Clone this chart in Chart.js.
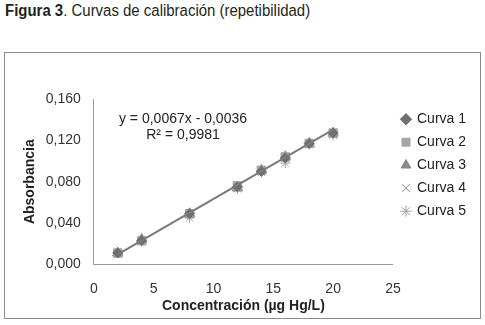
<!DOCTYPE html>
<html>
<head>
<meta charset="utf-8">
<script src="https://cdn.jsdelivr.net/npm/chart.js@4"></script>
<style>
  body { margin: 0; background: #fff; width: 485px; height: 325px; position: relative; overflow: hidden; }
  #fig { position: absolute; left: 5px; top: 2px; font-family: "Liberation Sans Narrow", "Arial Narrow", "Liberation Sans", sans-serif; font-size: 16px; color: #231f20; white-space: nowrap; transform: scaleX(0.935); transform-origin: left top; }
  #fig b { font-weight: bold; }
  #box { position: absolute; left: 4px; top: 52px; width: 475px; height: 265px; border: 1px solid #8c8c8c; }
</style>
</head>
<body>
<div id="fig"><b>Figura 3</b>. Curvas de calibración (repetibilidad)</div>
<div id="box"><canvas id="calChart" width="475" height="265"></canvas></div>
<script>
// concentraciones (µg Hg/L)
const conc = [2, 4, 8, 12, 14, 16, 18, 20];

// absorbancias
const curva1 = [0.011, 0.023, 0.049, 0.075, 0.090, 0.103, 0.117, 0.127];
const curva2 = [0.011, 0.023, 0.049, 0.076, 0.091, 0.104, 0.117, 0.127];
const curva3 = [0.011, 0.024, 0.049, 0.074, 0.091, 0.104, 0.117, 0.127];
const curva4 = [0.010, 0.022, 0.048, 0.074, 0.090, 0.103, 0.116, 0.126];
const curva5 = [0.011, 0.022, 0.045, 0.073, 0.089, 0.098, 0.116, 0.125];

// línea de tendencia y = 0,0067x - 0,0036
const trendX = [2, 20];
const trendY = [0.0098, 0.1304];

const yTicks = [0, 0.04, 0.08, 0.12, 0.16];

const FONT = "'Liberation Sans', Arial, sans-serif";

const toXY = vals => conc.map((x, i) => ({ x: x, y: vals[i] }));

const series = [
  { label: "Curva 1", data: curva1, style: "rectRot", color: "#6f6f6f", r: 5 },
  { label: "Curva 2", data: curva2, style: "rect", color: "#a5a5a5", r: 6 },
  { label: "Curva 3", data: curva3, style: "triangle", color: "#888888", r: 6 },
  { label: "Curva 4", data: curva4, style: "crossRot", color: "#8a8a8a", r: 5 },
  { label: "Curva 5", data: curva5, style: "star", color: "#a0a0a0", r: 5 }
];

const datasets = series.map(s => ({
  label: s.label,
  data: toXY(s.data),
  pointStyle: s.style,
  pointRadius: s.r,
  pointBackgroundColor: s.color,
  pointBorderColor: s.color,
  pointBorderWidth: 1,
  backgroundColor: s.color,
  borderColor: s.color,
  showLine: false,
  order: 1
}));

datasets.push({
  label: "trend",
  data: trendX.map((x, i) => ({ x: x, y: trendY[i] })),
  showLine: true,
  borderColor: "#7a7a7a",
  borderWidth: 2,
  pointRadius: 0,
  order: 0
});

const ctx = document.getElementById("calChart").getContext("2d");

// ecuación de la línea de tendencia
const eqLabel = {
  id: "eqLabel",
  afterDatasetsDraw(chart) {
    const c = chart.ctx;
    c.save();
    c.fillStyle = "#222";
    c.font = "14px " + FONT;
    c.textAlign = "center";
    c.textBaseline = "middle";
    c.fillText("y = 0,0067x - 0,0036", 178, 66);
    c.fillText("R² = 0,9981", 178, 82);
    c.restore();
  }
};

new Chart(ctx, {
  type: "scatter",
  data: { datasets: datasets },
  plugins: [eqLabel],
  options: {
    responsive: false,
    animation: false,
    layout: { padding: { top: 46, left: 17, right: 4, bottom: 3 } },
    plugins: {
      title: { display: false },
      tooltip: { enabled: false },
      legend: {
        position: "right",
        align: "start",
        title: { display: true, text: " ", font: { size: 1 }, padding: { top: 0, bottom: 3 } },
        labels: {
          usePointStyle: true,
          boxWidth: 8,
          boxHeight: 8,
          padding: 9,
          color: "#222",
          font: { family: FONT, size: 14 },
          filter: item => item.text !== "trend"
        }
      }
    },
    scales: {
      x: {
        type: "linear",
        min: 0,
        max: 25,
        ticks: { stepSize: 5, color: "#333", font: { family: FONT, size: 14 }, padding: 16 },
        grid: { display: false, drawTicks: false },
        border: { color: "#9a9a9a", width: 1 },
        title: {
          display: true,
          text: "Concentración (µg Hg/L)",
          color: "#222",
          font: { family: FONT, size: 14, weight: "bold" },
          padding: { top: -15, bottom: 0 }
        }
      },
      y: {
        min: 0,
        max: 0.16,
        afterBuildTicks: axis => { axis.ticks = yTicks.map(v => ({ value: v })); },
        ticks: {
          color: "#333",
          font: { family: FONT, size: 14 },
          padding: 13,
          callback: v => v.toFixed(3).replace(".", ",")
        },
        grid: { display: false, drawTicks: false },
        border: { color: "#9a9a9a", width: 1 },
        title: {
          display: true,
          text: "Absorbancia",
          color: "#222",
          font: { family: FONT, size: 14, weight: "bold" },
          padding: { top: 0, bottom: -6 }
        }
      }
    }
  }
});
</script>
</body>
</html>
